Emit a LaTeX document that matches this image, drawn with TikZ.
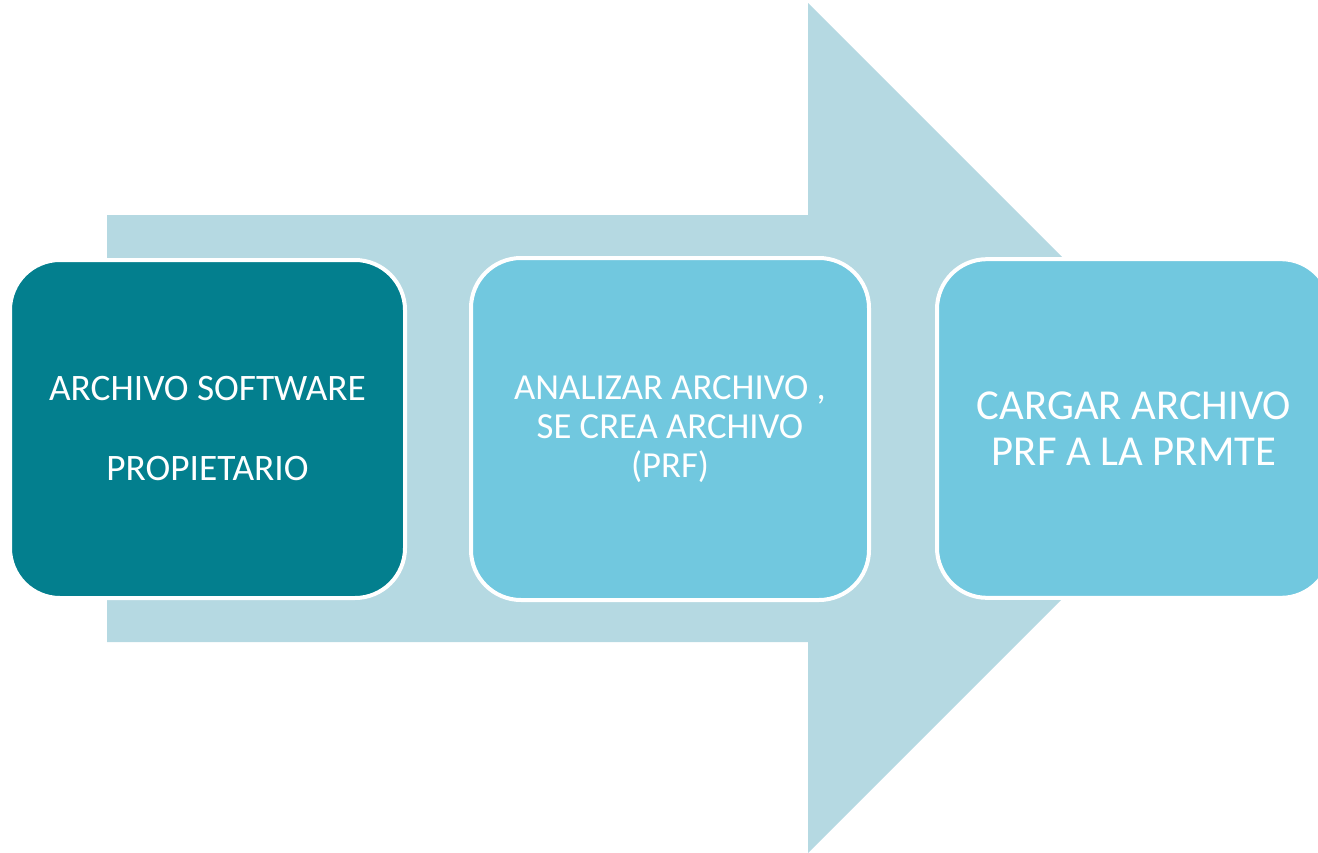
\documentclass[tikz,border=0pt]{standalone}
\usepackage{fontspec}
\setmainfont{Carlito}
\definecolor{arrowfill}{HTML}{B5D9E2}
\definecolor{darkteal}{HTML}{037F8E}
\definecolor{lightblue}{HTML}{71C8DF}
\begin{document}
\begin{tikzpicture}[x=0.75pt,y=-0.75pt,
  box/.style={draw=white,line width=3pt,rounded corners=37.5pt,align=center,text=white,inner sep=0pt}]
\useasboundingbox (0,0) rectangle (1318,853);
\clip (0,0) rectangle (1318,853);
\fill[arrowfill] (107,215) -- (808,215) -- (808,3) -- (1233,428) -- (808,853) -- (808,642) -- (107,642) -- cycle;
\node[box,fill=darkteal,minimum width=296.25pt,minimum height=253.5pt,
  font=\fontsize{28pt}{60pt}\selectfont] (a) at (207.5,429) {ARCHIVO SOFTWARE\\PROPIETARIO};
\node[box,fill=lightblue,minimum width=298.5pt,minimum height=256.5pt,
  font=\fontsize{27.5pt}{29.25pt}\selectfont] (b) at (670,429) {ANALIZAR ARCHIVO ,\\SE CREA ARCHIVO\\(PRF)};
\node[box,fill=lightblue,minimum width=295.5pt,minimum height=254pt,
  font=\fontsize{32pt}{34.5pt}\selectfont] (c) at (1134,428.5) {CARGAR ARCHIVO\\PRF A LA PRMTE};
\end{tikzpicture}
\end{document}
